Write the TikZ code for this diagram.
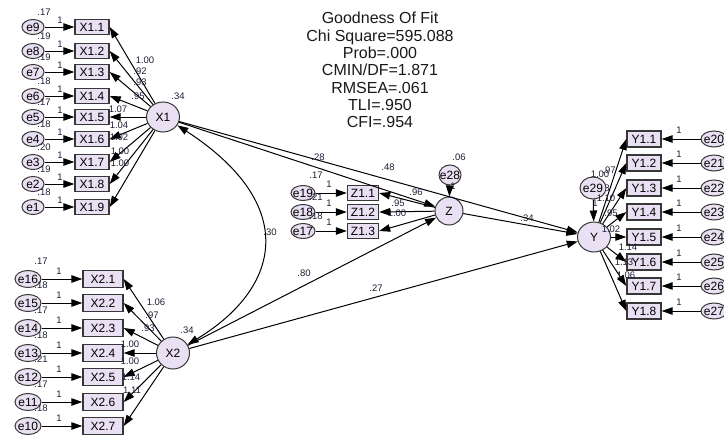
\documentclass[tikz,border=0pt]{standalone}
\usepackage{fontspec}
\setmainfont{Liberation Sans}
\usetikzlibrary{shapes.geometric,arrows.meta}
\definecolor{nodefill}{RGB}{234,224,243}
\definecolor{edgecol}{RGB}{55,55,55}
\definecolor{labcol}{RGB}{30,30,55}
\begin{document}
\begin{tikzpicture}[x=1pt,y=-1pt,
  obs/.style={rectangle,draw=edgecol,line width=1.4pt,fill=nodefill,inner sep=0pt,minimum width=34pt,minimum height=15pt,font=\fontsize{12}{12}\selectfont},
  lat/.style={ellipse,draw=edgecol,line width=1pt,fill=nodefill,inner sep=-3pt,minimum width=33pt,minimum height=30pt,font=\fontsize{12}{12}\selectfont},
  err/.style={ellipse,draw=edgecol,line width=1pt,fill=nodefill,inner sep=-3pt,minimum width=22pt,minimum height=15pt,font=\fontsize{12}{12}\selectfont},
  lab/.style={inner sep=0pt,font=\fontsize{9.5}{9.5}\selectfont,text=labcol},
  arr/.style={-{Triangle[length=11pt,width=7.5pt]},line width=1pt},
  cov/.style={{Triangle[length=11pt,width=7.5pt]}-{Triangle[length=11pt,width=7.5pt]},line width=1pt},
  gof/.style={align=center,font=\fontsize{16}{17.3}\selectfont,text=black!90,inner sep=0pt}]
\useasboundingbox (0,0) rectangle (724,439);

% goodness of fit
\node[gof] (gof) at (380,70) {Goodness Of Fit\\Chi Square=595.088\\Prob=.000\\CMIN/DF=1.871\\RMSEA=.061\\TLI=.950\\CFI=.954};

% X1 group
\foreach \i/\yy/\en/\va in {1/27/9/.17,2/51/8/.19,3/72/7/.19,4/96/6/.18,5/117/5/.17,6/139/4/.18,7/162/3/.20,8/184/2/.19,9/207/1/.18}{
  \node[obs] (X1\i) at (92,\yy) {X1.\i};
  \node[err] (e\en) at (33,\yy) {e\en};
  \draw[arr] (e\en) -- (X1\i);
  \node[lab] at (44,\yy-15) {\va};
  \node[lab] at (60,\yy-7) {1};
}
\node[lat] (X1) at (163,117) {X1};
\foreach \i in {1,...,9} \draw[arr] (X1) -- (X1\i.east);
\node[lab] at (178,96) {.34};
\foreach \lx/\ly/\t in {145/60/1.00,140/71/.92,140/82/.93,138/96/.95,118/109/1.07,119/125/1.04,119/137/1.02,120/151/1.00,120/163/1.00}
  \node[lab] at (\lx,\ly) {\t};

% X2 group
\foreach \i/\yy/\en/\va in {1/279/16/.17,2/303/15/.18,3/328/14/.17,4/353/13/.18,5/377/12/.21,6/402/11/.17,7/426/10/.18}{
  \node[obs,minimum width=40pt,minimum height=17pt] (X2\i) at (103,\yy) {X2.\i};
  \node[err,minimum width=26pt,minimum height=17pt] (e\en) at (28,\yy) {e\en};
  \draw[arr] (e\en) -- (X2\i);
  \node[lab] at (41,\yy-18) {\va};
  \node[lab] at (59,\yy-8) {1};
}
\node[lat,minimum height=32pt] (X2) at (173,353) {X2};
\foreach \i in {1,...,7} \draw[arr] (X2) -- (X2\i.east);
\node[lab] at (187,330) {.34};
\foreach \lx/\ly/\t in {156/302/1.06,152/315/.97,148/328/.93,130/344/1.00,130/361/1.00,131/377/1.14,132/390/1.11}
  \node[lab] at (\lx,\ly) {\t};

% Z group
\foreach \i/\yy/\en/\va/\vy in {1/193/19/.17/175,2/212/18/.21/197,3/231/17/.18/216}{
  \node[obs,minimum width=31pt] (Z1\i) at (363,\yy) {Z1.\i};
  \node[err,minimum width=24pt] (e\en) at (303,\yy) {e\en};
  \draw[arr] (e\en) -- (Z1\i);
  \node[lab] at (316,\vy) {\va};
  \node[lab] at (329,\yy-9) {1};
}
\node[lat,minimum width=28pt,minimum height=28pt] (Z) at (449,211) {Z};
\node[err,minimum width=22pt,minimum height=20pt] (e28) at (450,175) {e28};
\foreach \i in {1,2,3} \draw[arr] (Z) -- (Z1\i.east);
\node[lab] at (416,192) {.96};
\node[lab] at (398,203) {.95};
\node[lab] at (397,213) {1.00};
\node[lab] at (459,157) {.06};
\node[lab] at (453,186) {1};

% Y group
\foreach \i/\yy/\en in {1/139/20,2/163/21,3/188/22,4/212/23,5/237/24,6/262/25,7/286/26,8/311/27}{
  \node[obs,minimum height=16pt] (Y1\i) at (644,\yy) {Y1.\i};
  \node[err,minimum width=26pt,minimum height=16pt] (e\en) at (714,\yy) {e\en};
  \draw[arr] (e\en) -- (Y1\i);
  \node[lab] at (679,\yy-9) {1};
}
\node[lat] (Y) at (594,237) {Y};
\node[lab] at (603,188) {.98};
\node[err,minimum width=26pt,minimum height=22pt] (e29) at (593,188) {e29};
\foreach \i in {1,...,8} \draw[arr] (Y) -- (Y1\i.west);
\foreach \lx/\ly/\t in {600/174/1.00,609/170/.97,606/198/1.10,611/213/.95,611/229/1.02,628/247/1.14,624/262/1.13,626/275/1.06}
  \node[lab] at (\lx,\ly) {\t};
\node[lab] at (595,203) {1};

% structural paths
\draw[arr] (X1) -- (Z);
\draw[arr] (X1) -- (Y);
\draw[arr] (X2) -- (Z);
\draw[arr] (X2) -- (Y);
\draw[arr] (Z) -- (Y);
\draw[arr] (e28) -- (Z);
\draw[arr] (e29) -- (Y);
\draw[cov] (X1.-30) .. controls (300,205) and (281,288) .. (X2.30);
\node[lab] at (318,157) {.28};
\node[lab] at (388,167) {.48};
\node[lab] at (304,273) {.80};
\node[lab] at (376,288) {.27};
\node[lab] at (527,218) {.34};
\node[lab] at (270,232) {.30};
\end{tikzpicture}
\end{document}
